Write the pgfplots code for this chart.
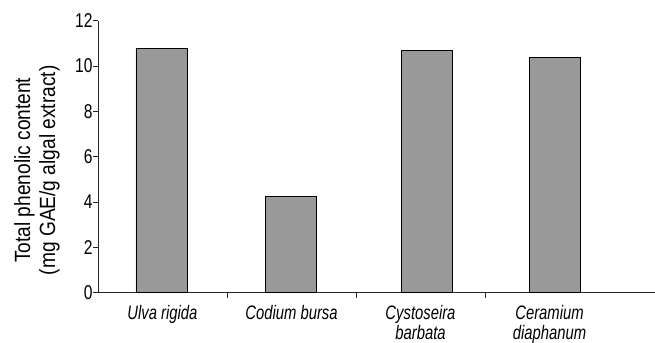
\documentclass[border=0pt]{standalone}
\usepackage{pgfplots}
\pgfplotsset{compat=1.18}
\usepackage{fontspec}
\setmainfont{Liberation Sans}[FakeStretch=0.8]
\newfontfamily\ticknarrow{Liberation Sans}[FakeStretch=0.78]
\newfontfamily\catnarrow{Liberation Sans}[FakeStretch=0.76]
\newfontfamily\labnarrow{Liberation Sans}[FakeStretch=0.87]
\begin{document}
\begin{tikzpicture}
\begin{axis}[
  name=ax,
  scale only axis,
  width=557bp, height=272bp,
  xmin=-0.5, xmax=3.818,
  ymin=0, ymax=12,
  ytick={0,2,4,6,8,10,12},
  xtick={0,1,2,3},
  xticklabels={{\textit{Ulva rigida}},{\textit{Codium bursa}},{\textit{Cystoseira}\\\textit{barbata}},{\textit{Ceramium}\\\textit{diaphanum}}},
  xticklabel style={align=center, anchor=north, inner sep=0pt, font=\catnarrow\fontsize{19.5bp}{20.5bp}\selectfont, yshift=-7bp},
  minor xtick={0.5,1.5,2.5},
  major x tick style={draw=none},
  tick align=outside,
  major tick length=5bp, minor tick length=5bp,
  axis lines*=left,
  axis line style={draw=black!85, line width=0.9bp},
  tick style={draw=black!85, line width=0.9bp},
  /pgf/number format/assume math mode=true,
  yticklabel style={font=\ticknarrow\fontsize{20bp}{20bp}\selectfont, anchor=east, inner sep=0pt, xshift=-0.3bp},
  ylabel={Total phenolic content\\(mg GAE/g algal extract)},
  ylabel style={align=center, font=\labnarrow\fontsize{22bp}{25bp}\selectfont, at={(axis description cs:-0.1095,0.45)}, anchor=center},
  clip=false,
]
\addplot[ybar, bar width=51bp, fill=black!40, draw=black, line width=0.9bp]
  coordinates {(-0.008,10.78) (0.996,4.26) (2.05,10.70) (3.04,10.38)};
\end{axis}
\pgfresetboundingbox
\path[use as bounding box] ([xshift=-98bp,yshift=-50.3bp]ax.south west) rectangle ([yshift=20.7bp]ax.north east);
\end{tikzpicture}
\end{document}
